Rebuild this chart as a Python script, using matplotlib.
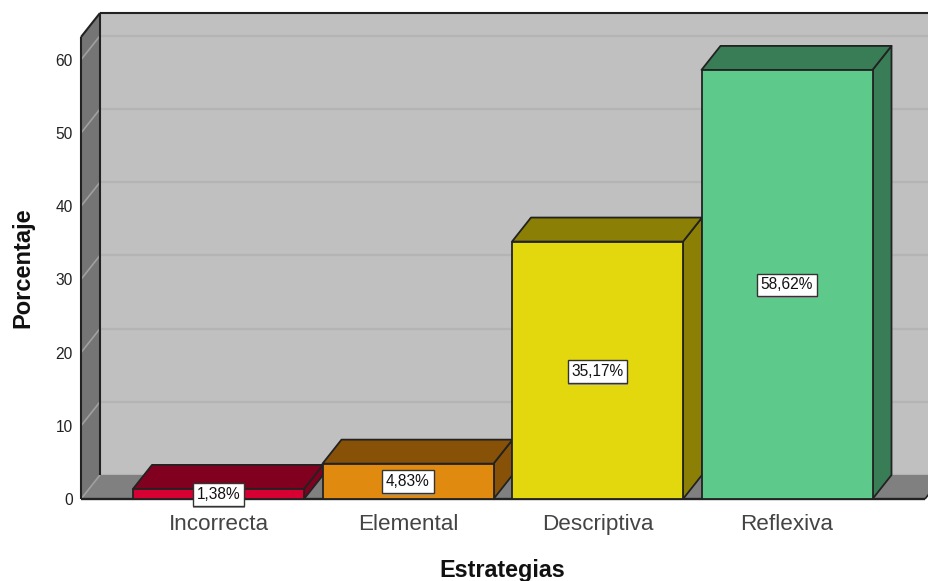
import matplotlib
matplotlib.use("Agg")
import matplotlib.pyplot as plt
from matplotlib.patches import Polygon
from matplotlib.patheffects import SimplePatchShadow, Normal

plt.rcParams['font.family'] = ['Liberation Sans', 'DejaVu Sans']

categories = ["Incorrecta", "Elemental", "Descriptiva", "Reflexiva"]
percentages = [1.38, 4.83, 35.17, 58.62]
value_labels = ["1,38%", "4,83%", "35,17%", "58,62%"]
y_ticks = [0, 10, 20, 30, 40, 50, 60]
front_colors = ["#d60032", "#e08a10", "#e3d80e", "#5dca8b"]
dark_colors = ["#82001f", "#875208", "#8b8005", "#387d55"]

W, H = 929, 581
fig = plt.figure(figsize=(W / 100, H / 100), dpi=100)
fig.patch.set_facecolor("white")

# Front plane of the 3D box, in pixels
left, right, bottom, top = 81, 925, 499, 37
ax = fig.add_axes([left / W, 1 - bottom / H, (right - left) / W, (bottom - top) / H])
unit_x = 189.5
x0 = (218.5 - left) / unit_x
ax.set_xlim(-x0, (right - left) / unit_x - x0)
ymax = (bottom - top) / 7.32
ax.set_ylim(0, ymax)
ax.patch.set_visible(False)
for s in ax.spines.values():
    s.set_visible(False)

# Oblique depth offset in data units
dx = 19 / unit_x
dy = 24 / 7.32
xl, xr = ax.get_xlim()
edge = "#222222"


def poly(pts, fc, z=1, lw=1.3, ec=edge):
    ax.add_patch(Polygon(pts, closed=True, fc=fc, ec=ec, lw=lw, zorder=z,
                         clip_on=False, joinstyle="round"))


def line(xs, ys, color=edge, lw=1.5, z=2.6):
    ax.plot(xs, ys, color=color, lw=lw, zorder=z, clip_on=False, solid_capstyle="butt")


# Back wall, left wall, floor
poly([(xl + dx, dy), (xr + dx, dy), (xr + dx, ymax + dy), (xl + dx, ymax + dy)], "#c0c0c0", 1, ec="none")
poly([(xl, 0), (xl + dx, dy), (xl + dx, ymax + dy), (xl, ymax)], "#757575", 2, ec="none")
poly([(xl, 0), (xr, 0), (xr + dx, dy), (xl + dx, dy)], "#808080", 2, ec="none")

# Gridlines on back wall and left wall
for t in y_ticks:
    line([xl + dx, xr + dx], [t + dy, t + dy], "#b4b4b4", 1.6, 1.5)
    line([xl, xl + dx], [t, t + dy], "#a0a0a0", 1.2, 2.5)

# Box outline: top of the back wall, wall verticals, front edges
line([xl, xl + dx], [ymax, ymax + dy])
line([xl + dx, xr + dx], [ymax + dy, ymax + dy])
line([xl + dx, xl + dx], [dy, ymax + dy])
line([xl, xl], [0, ymax])
line([xl, xr], [0, 0], lw=1.7)
line([xr, xr + dx], [0, dy], lw=1.2)

# Oblique bars: side, top, then front face
width = 171 / unit_x
for i, v in enumerate(percentages):
    a, b = i - width / 2, i + width / 2
    z = 3 + i
    poly([(b, 0), (b + dx, dy), (b + dx, v + dy), (b, v)], dark_colors[i], z)
    poly([(a, v), (b, v), (b + dx, v + dy), (a + dx, v + dy)], dark_colors[i], z)
    poly([(a, 0), (b, 0), (b, v), (a, v)], front_colors[i], z + 0.1)

# Value boxes with a drop shadow
label_y = [0.62, 2.4, 17.45, 29.25]
for i, (txt, ly) in enumerate(zip(value_labels, label_y)):
    t = ax.text(i, ly, txt, ha="center", va="center", fontsize=11.2, color="#111111", zorder=20,
                bbox=dict(boxstyle="square,pad=0.25", fc="white", ec="#333333", lw=1))
    t.get_bbox_patch().set_path_effects([
        SimplePatchShadow(offset=(0.5, -1.5), shadow_rgbFace="#999999", alpha=1), Normal()])

ax.set_yticks(y_ticks)
ax.set_yticklabels([str(t) for t in y_ticks], fontsize=11.2, color="#222222")
ax.set_xticks(range(len(categories)))
ax.set_xticklabels(categories, fontsize=16.2, color="#444444")
ax.tick_params(axis="both", length=0)
ax.tick_params(axis="y", pad=6)
ax.tick_params(axis="x", pad=10.5)

fig.text(502 / W, 1 - 570 / H, "Estrategias", ha="center", va="center",
         fontsize=16.8, fontweight="bold", color="#111111")
fig.text(23 / W, 1 - 268 / H, "Porcentaje", ha="center", va="center", rotation=90,
         fontsize=17, fontweight="bold", color="#111111")

fig.savefig("out.png", dpi=100)
